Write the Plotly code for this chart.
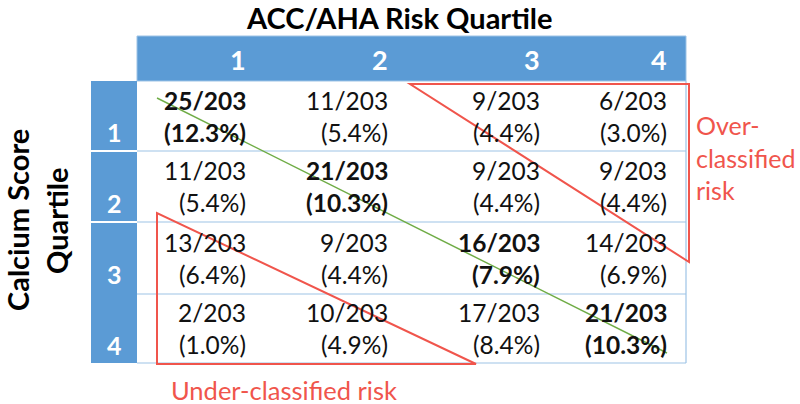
import plotly.graph_objects as go

# ---------------- data ----------------
col_labels = ["1", "2", "3", "4"]          # ACC/AHA risk quartile
row_labels = ["1", "2", "3", "4"]          # Calcium score quartile
total = 203
counts = [
    [25, 11, 9, 6],
    [11, 21, 9, 9],
    [13, 9, 16, 14],
    [2, 10, 17, 21],
]
percents = [
    [12.3, 5.4, 4.4, 3.0],
    [5.4, 10.3, 4.4, 4.4],
    [6.4, 4.4, 7.9, 6.9],
    [1.0, 4.9, 8.4, 10.3],
]
title_text = "ACC/AHA Risk Quartile"
ytitle_lines = ["Calcium Score", "Quartile"]
over_text = "Over-<br>classified<br>risk"
under_text = "Under-classified risk"

# ---------------- layout geometry (pixel space) ----------------
W, H = 800, 404
FONT = "Lato, 'Open Sans', sans-serif"
BLUE = "#5B9BD5"
LIGHT = "#9DC3E6"
RED = "#F0554C"
GREEN = "#70AD47"

tbl_left, tbl_right = 137, 686
hdr_top, hdr_bot = 36, 81
rowhdr_left = 91
row_edges = [81, 151, 222, 294, 363]
text_right = [248, 390, 542, 669]   # right edge of text in each column

fig = go.Figure()
shapes = []
annos = []

# header bar
shapes.append(dict(type="rect", x0=tbl_left, x1=tbl_right, y0=hdr_top, y1=hdr_bot,
                   fillcolor=BLUE, line=dict(color=LIGHT, width=1), layer="below"))
# row header bar
shapes.append(dict(type="rect", x0=rowhdr_left, x1=tbl_left, y0=row_edges[0], y1=row_edges[-1],
                   fillcolor=BLUE, line=dict(width=0), layer="below"))
# white separators in row header (between 1-2 and 2-3)
for yb in row_edges[1:3]:
    shapes.append(dict(type="line", x0=rowhdr_left, x1=tbl_left, y0=yb, y1=yb,
                       line=dict(color="white", width=2)))
# light-blue row lines
for yb in row_edges[1:]:
    shapes.append(dict(type="line", x0=tbl_left, x1=tbl_right, y0=yb, y1=yb,
                       line=dict(color=LIGHT, width=1.2)))
shapes.append(dict(type="line", x0=tbl_right, x1=tbl_right, y0=row_edges[0], y1=row_edges[-1],
                   line=dict(color=LIGHT, width=1.2)))

# column header labels
for j, lab in enumerate(col_labels):
    annos.append(dict(x=text_right[j], y=(hdr_top + hdr_bot) / 2 + 1, text=f"<b>{lab}</b>",
                      xanchor="right", yanchor="middle", showarrow=False,
                      font=dict(family=FONT, size=27, color="white")))
# row header labels
for i, lab in enumerate(row_labels):
    yc = (row_edges[i] + row_edges[i + 1]) / 2 + 16
    annos.append(dict(x=(rowhdr_left + tbl_left) / 2, y=yc, text=f"<b>{lab}</b>",
                      xanchor="center", yanchor="middle", showarrow=False,
                      font=dict(family=FONT, size=25, color="white")))

# cells
for i in range(4):
    yc = (row_edges[i] + row_edges[i + 1]) / 2
    for j in range(4):
        l1 = f"{counts[i][j]}/{total}"
        l2 = f"({percents[i][j]:.1f}%)"
        if i == j:
            l1, l2 = f"<b>{l1}</b>", f"<b>{l2}</b>"
        for txt, dy in ((l1, -16), (l2, 16)):
            annos.append(dict(x=text_right[j], y=yc + dy, text=txt,
                              xanchor="right", yanchor="middle", showarrow=False,
                              font=dict(family=FONT, size=24.5, color="#111111")))

# green diagonal
shapes.append(dict(type="line", x0=157, y0=98, x1=667, y1=353,
                   line=dict(color=GREEN, width=1.5)))
# red triangles
shapes.append(dict(type="path", path="M 410 84 L 689 84 L 689 262 Z",
                   line=dict(color=RED, width=2)))
shapes.append(dict(type="path", path="M 157 213 L 157 364 L 476 364 Z",
                   line=dict(color=RED, width=2)))

# titles
annos.append(dict(x=399, y=17, text=f"<b>{title_text}</b>", xanchor="center", yanchor="middle",
                  showarrow=False, font=dict(family=FONT, size=29, color="black")))
annos.append(dict(x=17, y=220, text=f"<b>{ytitle_lines[0]}</b>", textangle=-90,
                  xanchor="center", yanchor="middle", showarrow=False,
                  font=dict(family=FONT, size=29, color="black")))
annos.append(dict(x=56, y=221, text=f"<b>{ytitle_lines[1]}</b>", textangle=-90,
                  xanchor="center", yanchor="middle", showarrow=False,
                  font=dict(family=FONT, size=29, color="black")))
annos.append(dict(x=694, y=157, text=over_text, xanchor="left", yanchor="middle", align="left",
                  showarrow=False, font=dict(family=FONT, size=25, color=RED)))
annos.append(dict(x=284, y=390, text=under_text, xanchor="center", yanchor="middle",
                  showarrow=False, font=dict(family=FONT, size=25.5, color=RED)))

fig.update_layout(
    width=W, height=H, margin=dict(l=0, r=0, t=0, b=0),
    paper_bgcolor="white", plot_bgcolor="white",
    xaxis=dict(range=[0, W], visible=False, fixedrange=True),
    yaxis=dict(range=[H, 0], visible=False, fixedrange=True),
    shapes=shapes, annotations=annos, showlegend=False,
)
fig.write_html("out.html", config={"displayModeBar": False},
               post_script="document.body.style.margin='0px';document.body.style.overflow='hidden';")
